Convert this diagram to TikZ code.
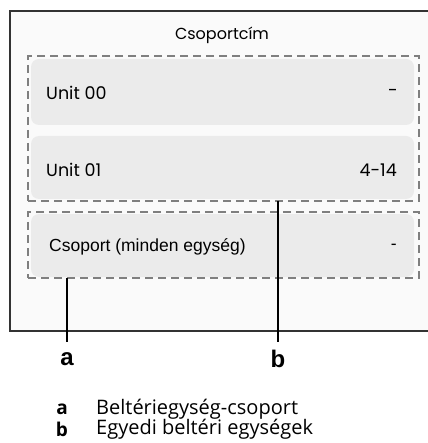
\documentclass[tikz,border=0pt]{standalone}
\usepackage{fontspec}
\setmainfont{Liberation Sans}
\newfontfamily\geofont{Poppins}
\newfontfamily\legfont{Open Sans}
\definecolor{framefill}{HTML}{FAFAFA}
\definecolor{framedraw}{HTML}{333333}
\definecolor{rowfill}{HTML}{EBEBEB}
\definecolor{dashgray}{HTML}{7F7F7F}
\begin{document}
\begin{tikzpicture}[x=1pt,y=-1pt,
  rowbox/.style={fill=rowfill,draw=none,rounded corners=8pt,minimum width=383pt,inner sep=0pt,outer sep=0pt},
  dashbox/.style={draw=dashgray,line width=2.4pt,dash pattern=on 8pt off 5pt,minimum width=391pt,inner sep=0pt,outer sep=0pt},
  rowtext/.style={font=\geofont\fontsize{17.5}{20}\selectfont,inner sep=0pt},
  calloutline/.style={line width=2.2pt,draw=black},
  calloutlabel/.style={font=\bfseries\fontsize{24}{28}\selectfont,inner sep=0pt},
  legkey/.style={font=\legfont\bfseries\fontsize{19}{22}\selectfont,inner sep=0pt},
  legtext/.style={font=\legfont\fontsize{20}{24}\selectfont,inner sep=0pt,anchor=west}]
\useasboundingbox (0,0) rectangle (427,443);
% frame
\fill[framefill] (10,11) rectangle (430,331);
\draw[framedraw,line width=1.5pt] (430,11) -- (10,11) -- (10,331) -- (430,331);
\node[font=\geofont\fontsize{16}{19}\selectfont,inner sep=0pt] (title) at (222,35) {Csoportcím};
% rows
\node[rowbox,minimum height=66pt] (r0) at (222.5,92) {};
\node[rowbox,minimum height=63pt] (r1) at (222.5,167.5) {};
\node[rowbox,minimum height=63pt] (r2) at (222.5,245.5) {};
\node[dashbox,minimum height=145pt] (ga) at (223.5,128.5) {};
\node[dashbox,minimum height=66pt] (gb) at (223.5,245) {};
% row texts
\node[rowtext,anchor=west] (t0) at (46,93) {Unit 00};
\node[rowtext,anchor=east] (v0) at (398,93) {-};
\node[rowtext,anchor=west] (t1) at (46,170) {Unit 01};
\node[rowtext,anchor=east] (v1) at (397,170) {4-14};
\node[font=\fontsize{17.5}{20}\selectfont,inner sep=0pt,anchor=west] (t2) at (49,247) {Csoport (minden egység)};
\node[font=\fontsize{17.5}{20}\selectfont,inner sep=0pt,anchor=east] (v2) at (397,247) {-};
% callouts
\node[calloutlabel] (la) at (67,359) {a};
\node[calloutlabel] (lb) at (278,359) {b};
\coordinate (ca) at (67,278);
\coordinate (cb) at (278,201);
\draw[calloutline] (ca) -- (67,342);
\draw[calloutline] (cb) -- (278,342);
% legend
\node[legkey] (ka) at (62,409) {a};
\node[legtext] (ta) at (96,409) {Beltériegység-csoport};
\node[legkey] (kb) at (62,429) {b};
\node[legtext] (tb) at (96,429) {Egyedi beltéri egységek};
\end{tikzpicture}
\end{document}
